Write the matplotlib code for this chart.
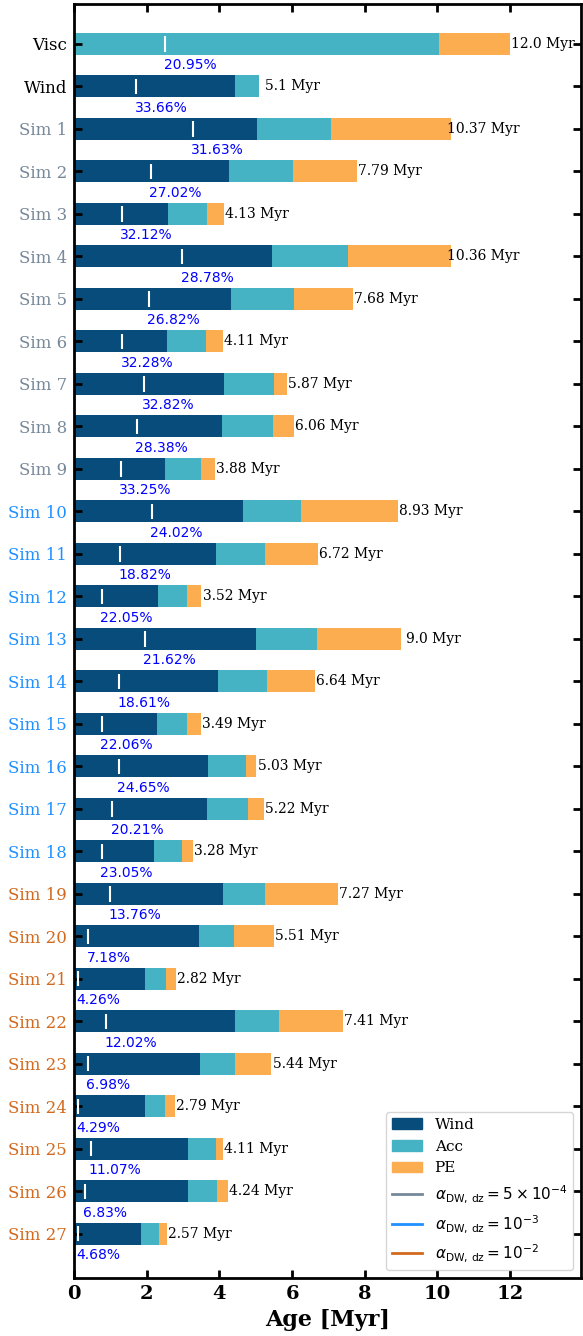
import numpy as np
import matplotlib
matplotlib.use("Agg")
import matplotlib.pyplot as plt
from matplotlib.patches import Patch
from matplotlib.lines import Line2D

plt.rcParams['font.family'] = ['DejaVu Serif']

# Row labels, top to bottom
labels = ['Visc', 'Wind'] + [f'Sim {i}' for i in range(1, 28)]

# Stage durations [Myr]
wind = [0.00, 4.43, 5.04, 4.27, 2.58, 5.45, 4.32, 2.55, 4.12, 4.07,
        2.49, 4.65, 3.91, 2.31, 5.01, 3.96, 2.28, 3.68, 3.65, 2.19,
        4.09, 3.44, 1.95, 4.43, 3.47, 1.95, 3.13, 3.13, 1.84]
acc = [10.05, 0.65, 2.04, 1.76, 1.07, 2.10, 1.73, 1.08, 1.39, 1.41,
       1.00, 1.60, 1.34, 0.80, 1.68, 1.35, 0.83, 1.05, 1.14, 0.77,
       1.16, 0.96, 0.57, 1.21, 0.96, 0.54, 0.78, 0.80, 0.49]
pe = [1.95, 0.02, 3.28, 1.75, 0.47, 2.81, 1.63, 0.46, 0.36, 0.57,
      0.39, 2.67, 1.47, 0.38, 2.31, 1.33, 0.38, 0.28, 0.44, 0.31,
      2.02, 1.11, 0.28, 1.77, 1.00, 0.28, 0.18, 0.31, 0.22]

# Disc lifetimes quoted next to the bars
totals = [12.0, 5.1, 10.37, 7.79, 4.13, 10.36, 7.68, 4.11, 5.87, 6.06,
          3.88, 8.93, 6.72, 3.52, 9.0, 6.64, 3.49, 5.03, 5.22, 3.28,
          7.27, 5.51, 2.82, 7.41, 5.44, 2.79, 4.11, 4.24, 2.57]

# Percentage of lifetime marked with the white tick
percent = [20.95, 33.66, 31.63, 27.02, 32.12, 28.78, 26.82, 32.28, 32.82, 28.38,
           33.25, 24.02, 18.82, 22.05, 21.62, 18.61, 22.06, 24.65, 20.21, 23.05,
           13.76, 7.18, 4.26, 12.02, 6.98, 4.29, 11.07, 6.83, 4.68]

label_colors = ['black', 'black'] + ['lightslategray'] * 9 + ['dodgerblue'] * 9 + ['chocolate'] * 9

c_wind = '#084c7b'
c_acc = '#46b3c4'
c_pe = '#fbad4f'

wind = np.array(wind)
acc = np.array(acc)
pe = np.array(pe)
totals = np.array(totals)
percent = np.array(percent)
y = np.arange(len(labels))
h = 0.52

fig = plt.figure(figsize=(5.83, 13.36), dpi=100)
ax = fig.add_axes([0.127, 0.0434, 0.8696, 0.9536])

ax.barh(y, wind, height=h, color=c_wind)
ax.barh(y, acc, left=wind, height=h, color=c_acc)
ax.barh(y, pe, left=wind + acc, height=h, color=c_pe)

# white tick at the given fraction of the lifetime + percentage below the bar
tick_x = percent / 100 * totals
ax.vlines(tick_x, y - 0.18, y + 0.18, color='white', lw=1.5, zorder=3)
for xi, yi, p in zip(tick_x, y, percent):
    ax.text(xi - 0.05, yi + 0.5, f'{p}%', ha='left', va='center',
            color='blue', fontsize=10, family='DejaVu Sans')

for t, yi in zip(totals, y):
    ax.text(t + 0.9, yi, f'{t} Myr', ha='center', va='center', fontsize=10)

ax.set_yticks(y)
ax.set_yticklabels(labels, fontsize=12)
for lab, c in zip(ax.get_yticklabels(), label_colors):
    lab.set_color(c)

ax.set_xticks(np.arange(0, 13, 2))
ax.set_xticklabels([str(v) for v in range(0, 13, 2)], fontsize=14, fontweight='bold')
ax.set_xlim(0, 13.95)
ax.set_ylim(29.04, -0.94)
ax.set_xlabel('Age [Myr]', fontsize=16, fontweight='bold', labelpad=4)

ax.tick_params(direction='in', length=6, width=2, pad=5,
               top=True, right=True)
for s in ax.spines.values():
    s.set_linewidth(2)

handles = [
    Patch(color=c_wind, label='Wind'),
    Patch(color=c_acc, label='Acc'),
    Patch(color=c_pe, label='PE'),
    Line2D([], [], color='lightslategray', lw=2, label=r'$\alpha_{\rm DW,\,dz} = 5\times10^{-4}$'),
    Line2D([], [], color='dodgerblue', lw=2, label=r'$\alpha_{\rm DW,\,dz} = 10^{-3}$'),
    Line2D([], [], color='chocolate', lw=2, label=r'$\alpha_{\rm DW,\,dz} = 10^{-2}$'),
]
ax.legend(handles=handles, loc='lower right', fontsize=11)

fig.savefig('out.png', dpi=100)
